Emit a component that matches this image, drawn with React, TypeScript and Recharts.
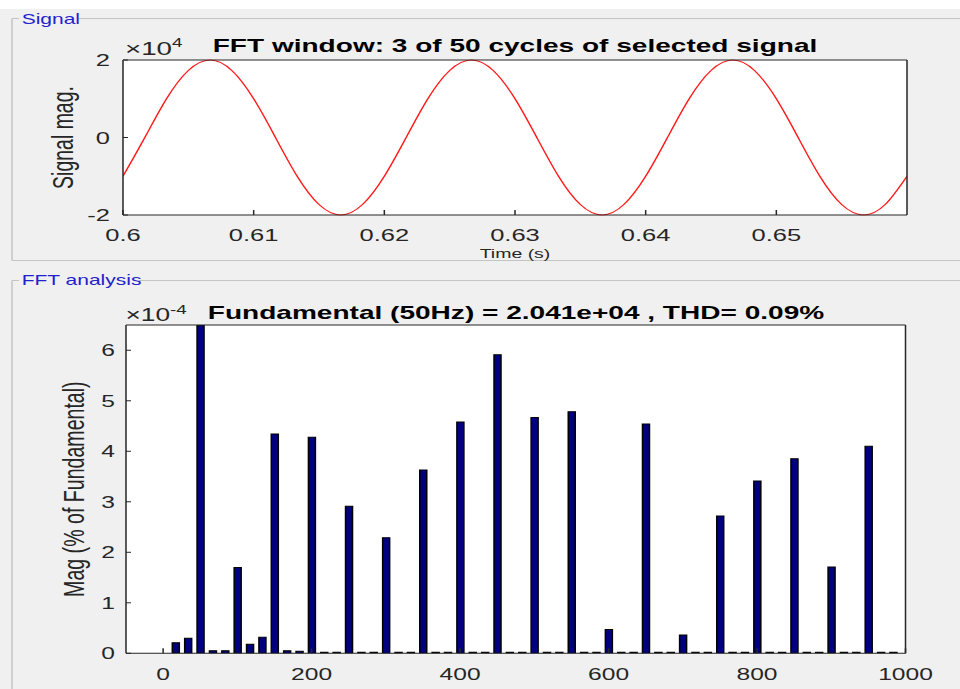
import { LineChart, Line, BarChart, Bar, XAxis, YAxis, CartesianGrid } from "recharts"

// the source screenshot is stretched sideways, so everything is drawn narrow and scaled back up
const SX = 1.5
const W = 960 / SX

// Signal window (s) and magnitude (x 1e4)
const times = [
  0.6, 0.60167, 0.60333, 0.605, 0.60667, 0.60833, 0.61, 0.61167, 0.61333, 0.615, 0.61667, 0.61833,
  0.62, 0.62167, 0.62333, 0.625, 0.62667, 0.62833, 0.63, 0.63167, 0.63333, 0.635, 0.63667, 0.63833,
  0.64, 0.64167, 0.64333, 0.645, 0.64667, 0.64833, 0.65, 0.65167, 0.65333, 0.655, 0.65667, 0.65833, 0.66,
]
const signalMag = [
  -1.0, 0, 1.0, 1.73, 2.0, 1.73, 1.0, 0, -1.0, -1.73, -2.0, -1.73,
  -1.0, 0, 1.0, 1.73, 2.0, 1.73, 1.0, 0, -1.0, -1.73, -2.0, -1.73,
  -1.0, 0, 1.0, 1.73, 2.0, 1.73, 1.0, 0, -1.0, -1.73, -2.0, -1.73, -1.0,
]
const timeTicks = [0.6, 0.61, 0.62, 0.63, 0.64, 0.65]
const signalTicks = [-2, 0, 2]

// FFT bins (Hz) and magnitude (x 1e-4 % of fundamental), fundamental clipped at the top
const freqs = [
  16.67, 33.33, 50, 66.67, 83.33, 100, 116.67, 133.33, 150, 166.67, 183.33, 200,
  216.67, 233.33, 250, 266.67, 283.33, 300, 316.67, 333.33, 350, 366.67, 383.33, 400,
  416.67, 433.33, 450, 466.67, 483.33, 500, 516.67, 533.33, 550, 566.67, 583.33, 600,
  616.67, 633.33, 650, 666.67, 683.33, 700, 716.67, 733.33, 750, 766.67, 783.33, 800,
  816.67, 833.33, 850, 866.67, 883.33, 900, 916.67, 933.33, 950, 966.67, 983.33,
]
const fftMag = [
  0.21, 0.3, 6.5, 0.05, 0.05, 1.7, 0.18, 0.32, 4.34, 0.05, 0.04, 4.28,
  0.02, 0.02, 2.91, 0.02, 0.02, 2.29, 0.02, 0.02, 3.63, 0.02, 0.02, 4.58,
  0.02, 0.02, 5.91, 0.02, 0.02, 4.67, 0.02, 0.02, 4.78, 0.02, 0.02, 0.47,
  0.02, 0.02, 4.54, 0.02, 0.02, 0.36, 0.02, 0.02, 2.72, 0.02, 0.02, 3.41,
  0.02, 0.02, 3.85, 0.02, 0.02, 1.71, 0.02, 0.02, 4.1, 0.02, 0.02,
]
const freqTicks = [0, 200, 400, 600, 800, 1000]
const magTicks = [0, 1, 2, 3, 4, 5, 6]

const FONT = '"Liberation Sans", Arial, Helvetica, sans-serif'
const AXIS = "#262626"
const PANEL_LINE = "#c4c4c4"
const PANEL_TEXT = "#2222cc"

const signalData = times.map((t, i) => ({ t, v: signalMag[i] }))
const fftData = freqs.map((f, i) => ({ f, mag: fftMag[i] }))

function SignalPanel() {
  return (
    <div style={{ position: "absolute", left: 0, top: 0, width: W, height: 262, overflow: "hidden" }}>
      <LineChart
        width={W}
        height={262}
        data={signalData}
        margin={{ top: 59, right: 53 / SX - 1, bottom: 2, left: 3 / SX }}
      >
        <CartesianGrid horizontal={false} vertical={false} fill="#ffffff" />
        <XAxis
          dataKey="t"
          type="number"
          domain={[0.6, 0.66]}
          ticks={timeTicks}
          allowDataOverflow
          height={45}
          tickSize={-5}
          tickMargin={19}
          stroke={AXIS}
          tick={{ fill: AXIS, fontSize: 17 }}
          label={{ value: "Time (s)", position: "insideBottom", offset: 2, fill: AXIS, fontSize: 13 }}
        />
        <XAxis
          xAxisId="top"
          orientation="top"
          type="number"
          domain={[0.6, 0.66]}
          ticks={timeTicks}
          allowDataOverflow
          height={1}
          tickSize={-5}
          tick={false}
          stroke={AXIS}
        />
        <YAxis
          type="number"
          domain={[-2, 2]}
          ticks={signalTicks}
          width={120 / SX}
          tickSize={-5 / SX}
          tickMargin={18 / SX}
          stroke={AXIS}
          tick={{ fill: AXIS, fontSize: 17 }}
          label={{ value: "Signal mag.", angle: -90, position: "center", fill: AXIS, fontSize: 19.5 }}
        />
        <YAxis
          yAxisId="right"
          orientation="right"
          type="number"
          domain={[-2, 2]}
          ticks={signalTicks}
          width={1}
          tickSize={-5 / SX}
          tick={false}
          stroke={AXIS}
        />
        <Line
          dataKey="v"
          type="natural"
          stroke="#ff1a1a"
          strokeWidth={1}
          dot={false}
          isAnimationActive={false}
        />
      </LineChart>
    </div>
  )
}

function FftPanel() {
  return (
    <div style={{ position: "absolute", left: 0, top: 281, width: W, height: 408 }}>
      <BarChart
        width={W}
        height={408}
        data={fftData}
        barSize={7 / SX}
        margin={{ top: 43, right: 54.5 / SX - 1, bottom: 0.7, left: 22 / SX }}
      >
        <CartesianGrid horizontal={false} vertical={false} fill="#ffffff" />
        <XAxis
          dataKey="f"
          type="number"
          domain={[-50, 1000]}
          ticks={freqTicks}
          allowDataOverflow
          height={35}
          tickSize={-5}
          tickMargin={20}
          stroke={AXIS}
          tick={{ fill: AXIS, fontSize: 16.4 }}
        />
        <XAxis
          xAxisId="top"
          orientation="top"
          type="number"
          domain={[-50, 1000]}
          ticks={freqTicks}
          allowDataOverflow
          height={1}
          tickSize={-5}
          tick={false}
          stroke={AXIS}
        />
        <YAxis
          type="number"
          domain={[0, 6.5]}
          ticks={magTicks}
          allowDataOverflow
          width={104 / SX}
          tickSize={-5 / SX}
          tickMargin={16 / SX}
          stroke={AXIS}
          tick={{ fill: AXIS, fontSize: 16.4 }}
          label={{ value: "Mag (% of Fundamental)", angle: -90, position: "center", fill: AXIS, fontSize: 19.6 }}
        />
        <YAxis
          yAxisId="right"
          orientation="right"
          type="number"
          domain={[0, 6.5]}
          ticks={magTicks}
          width={1}
          tickSize={-5 / SX}
          tick={false}
          stroke={AXIS}
        />
        <Bar dataKey="mag" fill="#000080" stroke="#000000" strokeWidth={1} isAnimationActive={false} />
      </BarChart>
    </div>
  )
}

export default function App() {
  return (
    <div
      style={{
        position: "absolute",
        left: 0,
        top: 0,
        width: 960,
        height: 689,
        overflow: "hidden",
        background: "#f0f0f0",
        fontFamily: FONT,
      }}
    >
      <div
        style={{
          position: "absolute",
          left: 0,
          top: 0,
          width: W,
          height: 689,
          transform: `scaleX(${SX})`,
          transformOrigin: "0 0",
        }}
      >
        {/* panel frames */}
        <svg width={W} height={689} style={{ position: "absolute", left: 0, top: 0 }}>
          <rect x={0} y={0} width={W} height={9} fill="#ffffff" />
          <line x1={12 / SX} y1={18.5} x2={19 / SX} y2={18.5} stroke={PANEL_LINE} />
          <line x1={79 / SX} y1={18.5} x2={W} y2={18.5} stroke={PANEL_LINE} />
          <line x1={12 / SX} y1={18.5} x2={12 / SX} y2={260.5} stroke={PANEL_LINE} />
          <line x1={12 / SX} y1={260.5} x2={W} y2={260.5} stroke={PANEL_LINE} />
          <text x={21.7 / SX} y={24} fontSize={14} fill={PANEL_TEXT}>Signal</text>
          <line x1={12 / SX} y1={280.5} x2={19 / SX} y2={280.5} stroke={PANEL_LINE} />
          <line x1={139 / SX} y1={280.5} x2={W} y2={280.5} stroke={PANEL_LINE} />
          <line x1={12 / SX} y1={280.5} x2={12 / SX} y2={689} stroke={PANEL_LINE} />
          <text x={21.7 / SX} y={285.5} fontSize={14} fill={PANEL_TEXT}>FFT analysis</text>
        </svg>

        <SignalPanel />
        <FftPanel />

        {/* titles and axis exponents */}
        <svg width={W} height={689} style={{ position: "absolute", left: 0, top: 0, pointerEvents: "none" }}>
          <text x={515 / SX} y={52} textAnchor="middle" fontSize={18.7} fontWeight="bold" fill="#000000">
            FFT window: 3 of 50 cycles of selected signal
          </text>
          <text x={125 / SX} y={55} fontSize={18.5} fill={AXIS}>
            ×10<tspan dy={-8} fontSize={12.5}>4</tspan>
          </text>
          <text x={516 / SX} y={319} textAnchor="middle" fontSize={18.7} fontWeight="bold" fill="#000000">
            Fundamental (50Hz) = 2.041e+04 , THD= 0.09%
          </text>
          <text x={125.5 / SX} y={321.5} fontSize={17.5} fill={AXIS}>
            ×10<tspan dy={-7.5} fontSize={12.5}>-4</tspan>
          </text>
        </svg>
      </div>
    </div>
  )
}
